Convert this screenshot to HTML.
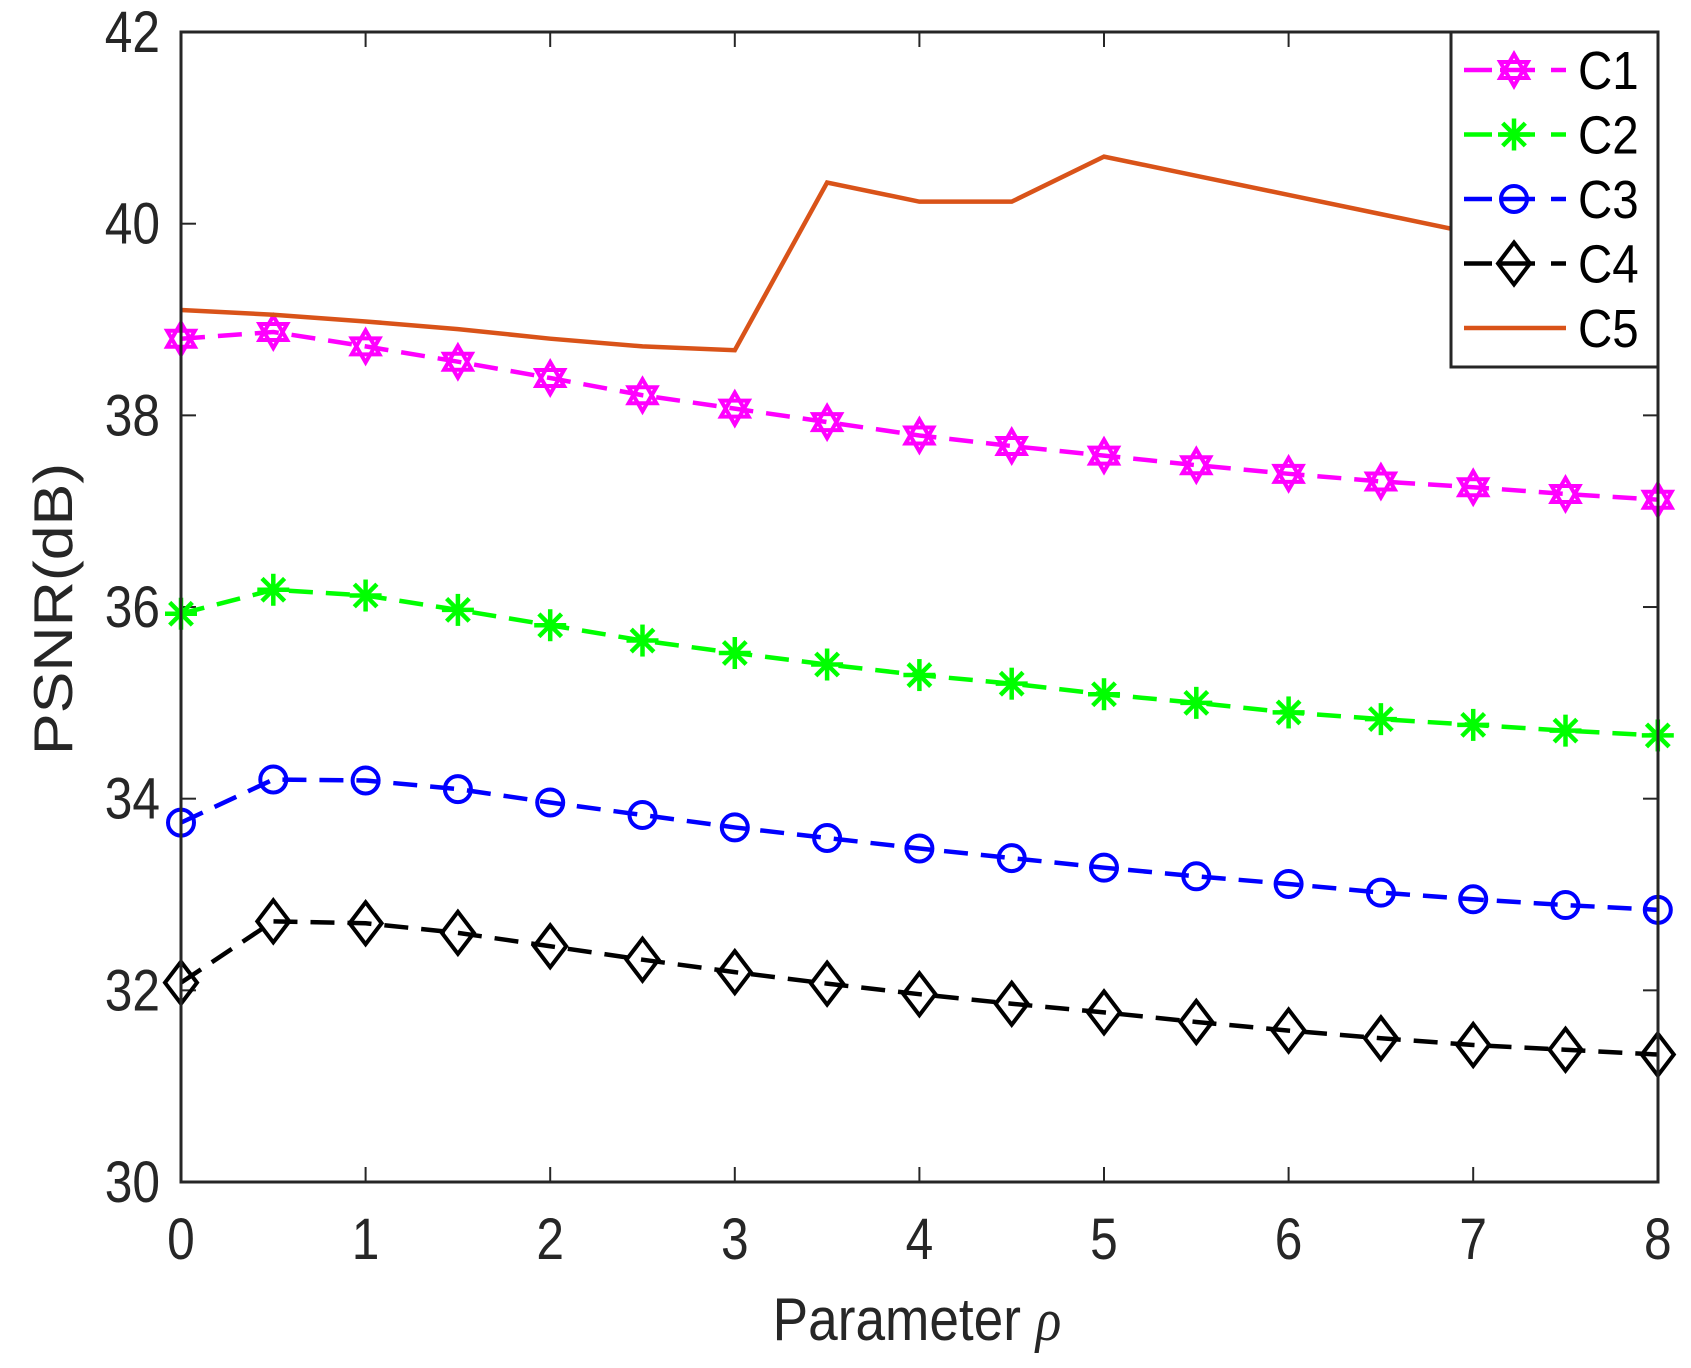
<!DOCTYPE html><html><head><meta charset="utf-8"><style>body{margin:0;background:#fff}svg{display:block}text{font-family:"Liberation Sans",Arial,sans-serif;fill:#262626}</style></head><body>
<svg id="s" width="1691" height="1368" viewBox="0 0 1691 1368" xmlns="http://www.w3.org/2000/svg"></svg>
<script>
const s=document.getElementById('s');let h='';
const X=v=>181+v*184.6, Y=v=>1182-(v-30)*95.83;
h+='<rect x="181" y="32" width="1477" height="1150" fill="#fff"/>';
for(let i=0;i<=8;i++){const x=X(i);h+=`<line x1="${x}" y1="1182" x2="${x}" y2="1167" stroke="#262626" stroke-width="2"/><line x1="${x}" y1="32" x2="${x}" y2="47" stroke="#262626" stroke-width="2"/><text x="${x}" y="1259" font-size="54" text-anchor="middle" transform="translate(${x},1259) scale(0.92,1.08) translate(${-x},-1259)">${i}</text>`;}
for(let v=30;v<=42;v+=2){const y=Y(v);h+=`<line x1="181" y1="${y}" x2="196" y2="${y}" stroke="#262626" stroke-width="2"/><line x1="1658" y1="${y}" x2="1643" y2="${y}" stroke="#262626" stroke-width="2"/><text x="160" y="${y+20}" font-size="54" text-anchor="end" transform="translate(160,${y+20}) scale(0.92,1.08) translate(-160,${-(y+20)})">${v}</text>`;}
const D={
c1:[38.8,38.87,38.72,38.56,38.39,38.21,38.07,37.93,37.79,37.68,37.58,37.48,37.39,37.31,37.25,37.18,37.12],
c2:[35.93,36.18,36.12,35.97,35.81,35.65,35.52,35.40,35.29,35.20,35.09,35.00,34.90,34.83,34.77,34.71,34.66],
c3:[33.75,34.2,34.19,34.1,33.96,33.83,33.7,33.59,33.48,33.38,33.28,33.19,33.11,33.02,32.95,32.89,32.84],
c4:[32.08,32.72,32.7,32.6,32.46,32.32,32.19,32.07,31.96,31.86,31.77,31.67,31.58,31.50,31.43,31.38,31.33],
c5:[39.1,39.05,38.98,38.9,38.8,38.72,38.68,40.43,40.23,40.23,40.7,40.5,40.3,40.1,39.9,39.72,39.55]};
const col={c1:'#ff00ff',c2:'#00ff00',c3:'#0000ff',c4:'#000000',c5:'#d95319'};
function mk(k,x,y){const c=col[k];
 if(k=='c1'){const r=16;let a=[],b=[];for(let i=0;i<3;i++){let t=-Math.PI/2+i*2*Math.PI/3;a.push((x+r*Math.cos(t))+','+(y+r*Math.sin(t)));t+=Math.PI;b.push((x+r*Math.cos(t))+','+(y+r*Math.sin(t)));}
  return `<polygon points="${a}" fill="none" stroke="${c}" stroke-width="4"/><polygon points="${b}" fill="none" stroke="${c}" stroke-width="4"/>`;}
 if(k=='c2'){let o='';for(let i=0;i<4;i++){const t=i*Math.PI/4,r=16;o+=`<line x1="${x-r*Math.cos(t)}" y1="${y-r*Math.sin(t)}" x2="${x+r*Math.cos(t)}" y2="${y+r*Math.sin(t)}" stroke="${c}" stroke-width="4.5"/>`;}return o;}
 if(k=='c3')return `<circle cx="${x}" cy="${y}" r="13" fill="none" stroke="${c}" stroke-width="4"/>`;
 if(k=='c4')return `<polygon points="${x},${y-21} ${x+16},${y} ${x},${y+21} ${x-16},${y}" fill="none" stroke="${c}" stroke-width="4"/>`;
 return '';}
for(const k in D){const p=D[k].map((v,i)=>X(i*0.5)+','+Y(v)).join(' ');
 h+=`<polyline points="${p}" fill="none" stroke="${col[k]}" stroke-width="4.5" ${k=='c5'?'':'stroke-dasharray="24 13"'}/>`;
 if(k!='c5')D[k].forEach((v,i)=>h+=mk(k,X(i*0.5),Y(v)));}
h+='<rect x="181" y="32" width="1477" height="1150" fill="none" stroke="#262626" stroke-width="3"/>';
h+='<rect x="1451" y="32" width="207" height="335" fill="#fff" stroke="#262626" stroke-width="3"/>';
['c1','c2','c3','c4','c5'].forEach((k,i)=>{const y=70+i*64.5;
 if(k=='c5')h+=`<line x1="1464" y1="${y}" x2="1566" y2="${y}" stroke="${col[k]}" stroke-width="4.5"/>`;
 else h+=`<line x1="1464" y1="${y}" x2="1492" y2="${y}" stroke="${col[k]}" stroke-width="4.5"/><line x1="1500" y1="${y}" x2="1535" y2="${y}" stroke="${col[k]}" stroke-width="4.5"/><line x1="1551" y1="${y}" x2="1566" y2="${y}" stroke="${col[k]}" stroke-width="4.5"/>`+mk(k,1514,y);
 h+=`<text x="1578" y="${y+19}" font-size="50" style="fill:#000" transform="translate(1578,${y+19}) scale(0.95,1.08) translate(-1578,${-(y+19)})">C${i+1}</text>`;});
h+='<text x="917" y="1340" font-size="56" text-anchor="middle" transform="translate(917,1340) scale(0.95,1.08) translate(-917,-1340)">Parameter <tspan font-family="Liberation Serif" font-style="italic">ρ</tspan></text>';
h+='<text transform="translate(72,609) rotate(-90) scale(1.08,0.95)" font-size="58" text-anchor="middle">PSNR(dB)</text>';
s.innerHTML=h;
</script></body></html>
